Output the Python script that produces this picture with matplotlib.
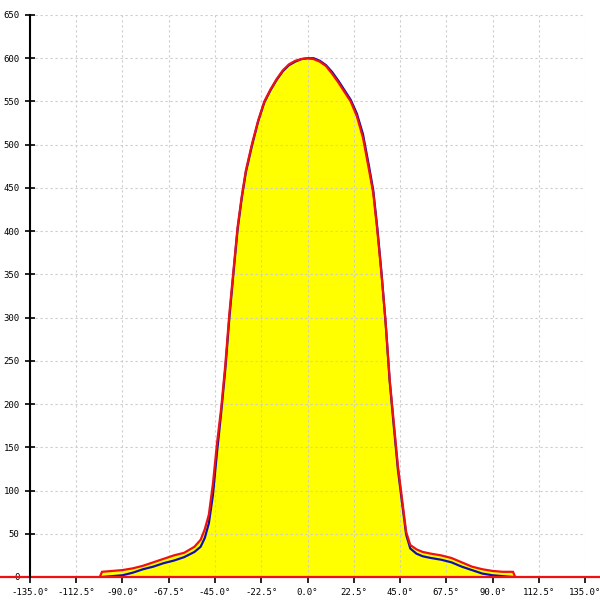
import matplotlib
matplotlib.use("Agg")
import matplotlib.pyplot as plt
import numpy as np

# angle (deg) and intensity
angles = [-101, -100, -95, -90, -85, -80, -75, -70, -65, -60, -55, -52, -50, -48, -46,
          -44, -42, -40, -38, -36, -34, -32, -30, -27, -24, -21, -18, -15, -12, -9,
          -6, -3, 0, 3, 6, 9, 12, 15, 18, 21, 24, 27, 30, 32, 34, 36, 38, 40, 42,
          44, 46, 48, 50, 53, 56, 60, 65, 70, 75, 80, 85, 90, 95, 100, 101]
red_vals = [0, 6, 7, 8, 10, 13, 17, 21, 25, 28, 35, 43, 55, 72, 108,
            155, 195, 245, 305, 355, 405, 440, 470, 501, 528, 550, 564, 576, 586, 593,
            597, 599, 600, 599, 596, 591, 582, 572, 561, 550, 533, 508, 470, 444, 400,
            350, 295, 228, 178, 128, 90, 52, 37, 32, 29, 27, 25, 22, 17, 12, 9, 7, 6, 6, 0]
blue_vals = [0, 0, 1, 2, 5, 9, 12, 16, 19, 23, 29, 35, 45, 62, 95,
             145, 190, 240, 300, 352, 402, 438, 468, 499, 527, 549, 563, 575, 585, 592,
             596, 599, 600, 600, 597, 592, 584, 574, 563, 552, 536, 512, 474, 447, 403,
             352, 294, 226, 174, 124, 86, 49, 33, 27, 24, 22, 20, 17, 12, 8, 4, 2, 1, 0, 0]

xticks = [-135, -112.5, -90, -67.5, -45, -22.5, 0, 22.5, 45, 67.5, 90, 112.5, 135]
yticks = list(range(0, 651, 50))

fig = plt.figure(figsize=(6, 6), dpi=100)
ax = fig.add_axes([30 / 600, 23 / 600, 555 / 600, 562 / 600])
ax.set_xlim(-135, 135)
ax.set_ylim(0, 650)

for s in ["top", "right", "bottom"]:
    ax.spines[s].set_visible(False)
ax.spines["left"].set_linewidth(1.5)

ax.set_xticks(xticks)
ax.set_xticklabels(["%.1f\u00b0" % t for t in xticks])
ax.set_yticks(yticks)
ax.set_yticklabels([str(t) for t in yticks])
ax.tick_params(axis="y", direction="inout", length=7, width=1.2, pad=4, labelsize=6.5)
ax.tick_params(axis="x", direction="out", length=4, width=1.2, pad=4, labelsize=6.5)
for lab in ax.get_xticklabels() + ax.get_yticklabels():
    lab.set_family("DejaVu Sans Mono")

# grid sits on top of the yellow fill but under the curves
ax.grid(True, color="#cccccc", linestyle=(0, (2, 2.5)), linewidth=0.8)
ax.set_axisbelow("line")

ax.fill_between(angles, 0, red_vals, color="#ffff00", lw=0, zorder=1)
ax.plot(angles, blue_vals, color="#1010b0", lw=1.6, zorder=2)
ax.plot(angles, red_vals, color="#ee1111", lw=1.6, zorder=2.1)
ax.axhline(0, xmin=-30 / 555, xmax=1 + 15 / 555, color="#ee1111", lw=1.6, clip_on=False)

fig.savefig("out.png", dpi=100)
